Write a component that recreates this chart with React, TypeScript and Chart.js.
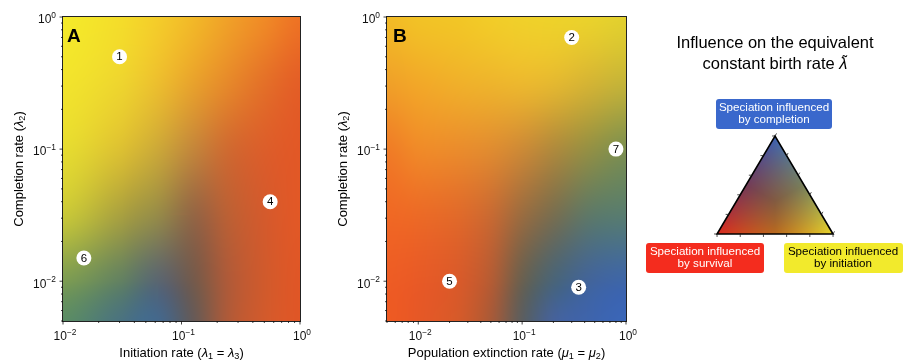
import React, { useEffect, useRef } from "react";
import { Chart, registerables } from "chart.js";
Chart.register(...registerables);

const FONT = '"Liberation Sans", Arial, Helvetica, sans-serif';

// ---------- tick values ----------
const majorTickValues = [0.01, 0.1, 1];
const majorTickExponents = ["−2", "−1", "0"];
const minorTicksAX = [0.02, 0.03, 0.04, 0.05, 0.06, 0.07, 0.08, 0.09, 0.2, 0.3, 0.4, 0.5, 0.6, 0.7, 0.8, 0.9];
const minorTicksWide = [0.005, 0.006, 0.007, 0.008, 0.009, 0.02, 0.03, 0.04, 0.05, 0.06, 0.07, 0.08, 0.09, 0.2, 0.3, 0.4, 0.5, 0.6, 0.7, 0.8, 0.9];

// ---------- markers ----------
const markerAX = [0.03, 0.56, 0.015];
const markerAY = [0.5, 0.04, 0.015];
const markerALabels = ["1", "4", "6"];
const markerBX = [0.3, 0.8, 0.02, 0.35];
const markerBY = [0.7, 0.1, 0.01, 0.009];
const markerBLabels = ["2", "7", "5", "3"];

// ---------- heat map colour samples (rows: y values, cols: x values) ----------
const heatY = [1, 0.316, 0.1, 0.0316, 0.01, 0.005];
const heatAX = [0.01, 0.0316, 0.0631, 0.126, 0.251, 0.501, 1];
const heatAColors = [
  ["#f4ea2a", "#f4dc2a", "#f4cc2a", "#f2b828", "#f0a028", "#f08a26", "#ee7224"],
  ["#f2e42c", "#eed42e", "#ecbe2e", "#e8a22c", "#e6882a", "#e47028", "#e45e26"],
  ["#e6dc30", "#dcc032", "#cca838", "#c4863a", "#d06a30", "#dc5e2a", "#e25826"],
  ["#c8c838", "#a8a040", "#968a48", "#946644", "#bc6034", "#d45a2c", "#e25826"],
  ["#7c9c52", "#628062", "#5a6670", "#745a4c", "#b05a38", "#d05a2c", "#e05626"],
  ["#5a8c64", "#4a7280", "#44688c", "#665a58", "#b05a38", "#d25a2c", "#e05626"],
];
const heatBX = [0.005, 0.01, 0.0251, 0.0501, 0.1, 0.2, 0.447, 1];
const heatBColors = [
  ["#f2ba26", "#f2c226", "#f2c626", "#f2cc28", "#f0d02a", "#eed22a", "#ead22c", "#e2d02e"],
  ["#f0a028", "#f2a828", "#f0b02a", "#eeb42c", "#ecb82e", "#e4b830", "#d4b434", "#c4b438"],
  ["#f07c26", "#f08a28", "#ea8c2c", "#e08c30", "#cc8a36", "#b08a3c", "#949044", "#7e9050"],
  ["#f06824", "#ec6a26", "#e06a2a", "#c86a32", "#9a6c40", "#786e50", "#5e7868", "#587c70"],
  ["#ee5c24", "#e85a26", "#d85a2a", "#b45c34", "#6a6050", "#4a6478", "#42649a", "#3e66a8"],
  ["#ee5a22", "#e65826", "#d45a2a", "#a85a38", "#5c5e60", "#46629a", "#3e64ac", "#3a66b8"],
];

// ---------- ternary legend ----------
const triangleX = [0, 1, 0.5];
const triangleY = [0, 0, 1];
const triangleColors = ["#dc2a1e", "#e8d62a", "#3a62b4"]; // survival, initiation, completion
const triTicks = [0, 0.2, 0.4, 0.6, 0.8, 1];
const legendTitle = ["Influence on the equivalent", "constant birth rate "];
const boxCompletion = ["Speciation influenced", "by completion"];
const boxSurvival = ["Speciation influenced", "by survival"];
const boxInitiation = ["Speciation influenced", "by initiation"];

type Seg = { t: string; it?: boolean; sub?: boolean; sup?: boolean };

function hexToRgb(h: string): number[] {
  const n = parseInt(h.slice(1), 16);
  return [(n >> 16) & 255, (n >> 8) & 255, n & 255];
}

function drawRich(ctx: CanvasRenderingContext2D, segs: Seg[], x: number, y: number, size: number, align: "left" | "center" | "right") {
  const fontFor = (s: Seg) => `${s.it ? "italic " : ""}${s.sub || s.sup ? size * 0.7 : size}px ${FONT}`;
  let total = 0;
  const widths = segs.map((s) => {
    ctx.font = fontFor(s);
    const w = ctx.measureText(s.t).width;
    total += w;
    return w;
  });
  let cx = align === "center" ? x - total / 2 : align === "right" ? x - total : x;
  ctx.textBaseline = "middle";
  ctx.textAlign = "left";
  const xs: number[] = [];
  segs.forEach((s, i) => {
    ctx.font = fontFor(s);
    const dy = s.sub ? size * 0.3 : s.sup ? -size * 0.38 : 0;
    xs.push(cx);
    ctx.fillText(s.t, cx, y + dy);
    cx += widths[i];
  });
  return { xs, widths };
}

function segIndex(arr: number[], v: number): [number, number] {
  const n = arr.length;
  const inc = arr[n - 1] > arr[0];
  for (let k = 0; k < n - 1; k++) {
    const a = arr[k], b = arr[k + 1];
    if ((inc && v <= b) || (!inc && v >= b) || k === n - 2) {
      let t = (v - a) / (b - a);
      t = Math.max(0, Math.min(1, t));
      return [k, t];
    }
  }
  return [0, 0];
}
function crWeights(t: number) {
  const t2 = t * t, t3 = t2 * t;
  return [(-t3 + 2 * t2 - t) / 2, (3 * t3 - 5 * t2 + 2) / 2, (-3 * t3 + 4 * t2 + t) / 2, (t3 - t2) / 2];
}

interface PanelCfg {
  letter: string;
  xMin: number; xMax: number; yMin: number; yMax: number;
  xMinor: number[]; yMinor: number[];
  heatX: number[]; heatY: number[]; heatColors: string[][];
  markerX: number[]; markerY: number[]; markerLabels: string[];
  xTitle: Seg[]; yTitle: Seg[];
  axisLeft: number; padRight: number;
}

function makePanel(canvas: HTMLCanvasElement, p: PanelCfg) {
  const rgb = p.heatColors.map((r) => r.map(hexToRgb));
  const lx = p.heatX.map(Math.log10);
  const ly = p.heatY.map(Math.log10);
  const plugin = {
    id: "panel",
    beforeDatasetsDraw(chart: any) {
      const { ctx, chartArea: a, scales } = chart;
      const xs = scales.x, ys = scales.y;
      const L = Math.round(a.left), T = Math.round(a.top);
      const W = Math.round(a.right) - L, H = Math.round(a.bottom) - T;
      const img = ctx.createImageData(W, H);
      const nC = lx.length, nR = ly.length;
      const colI: number[][] = [], colW: number[][] = [];
      for (let i = 0; i < W; i++) {
        const v = Math.log10(xs.getValueForPixel(L + i + 0.5));
        const [k, t] = segIndex(lx, v);
        colI.push([k - 1, k, k + 1, k + 2].map((q) => Math.max(0, Math.min(nC - 1, q))));
        colW.push(crWeights(t));
      }
      for (let j = 0; j < H; j++) {
        const v = Math.log10(ys.getValueForPixel(T + j + 0.5));
        const [k, t] = segIndex(ly, v);
        const rI = [k - 1, k, k + 1, k + 2].map((q) => Math.max(0, Math.min(nR - 1, q)));
        const rW = crWeights(t);
        for (let i = 0; i < W; i++) {
          const acc = [0, 0, 0];
          for (let a2 = 0; a2 < 4; a2++) {
            const row = rgb[rI[a2]];
            for (let b2 = 0; b2 < 4; b2++) {
              const w = rW[a2] * colW[i][b2];
              const c = row[colI[i][b2]];
              acc[0] += w * c[0]; acc[1] += w * c[1]; acc[2] += w * c[2];
            }
          }
          // keep within the range of the four surrounding samples (no overshoot)
          const c00 = rgb[rI[1]][colI[i][1]], c01 = rgb[rI[1]][colI[i][2]];
          const c10 = rgb[rI[2]][colI[i][1]], c11 = rgb[rI[2]][colI[i][2]];
          const o = (j * W + i) * 4;
          for (let c = 0; c < 3; c++) {
            const lo = Math.min(c00[c], c01[c], c10[c], c11[c]);
            const hi = Math.max(c00[c], c01[c], c10[c], c11[c]);
            img.data[o + c] = Math.max(lo, Math.min(hi, acc[c]));
          }
          img.data[o + 3] = 255;
        }
      }
      ctx.putImageData(img, L, T);
    },
    afterDatasetsDraw(chart: any) {
      const { ctx, chartArea: a } = chart;
      const meta = chart.getDatasetMeta(0);
      ctx.save();
      ctx.fillStyle = "#000";
      ctx.font = `11.5px ${FONT}`;
      ctx.textAlign = "center";
      ctx.textBaseline = "middle";
      meta.data.forEach((el: any, i: number) => {
        ctx.fillText(p.markerLabels[i], el.x, el.y + 0.5);
      });
      ctx.font = `bold 19px ${FONT}`;
      ctx.textAlign = "left";
      ctx.textBaseline = "alphabetic";
      ctx.fillText(p.letter, a.left + (p.letter === "A" ? 4 : 6), a.top + 25);
      ctx.restore();
    },
    afterDraw(chart: any) {
      const { ctx, chartArea: a, scales } = chart;
      const xs = scales.x, ys = scales.y;
      ctx.save();
      ctx.strokeStyle = "#222";
      ctx.lineWidth = 1;
      ctx.strokeRect(a.left - 0.5, a.top - 0.5, a.right - a.left + 1, a.bottom - a.top + 1);
      ctx.lineWidth = 0.8;
      ctx.strokeStyle = "#111";
      const tickX = (v: number, len: number) => {
        const px = xs.getPixelForValue(v);
        ctx.beginPath();
        ctx.moveTo(px, a.bottom);
        ctx.lineTo(px, a.bottom + len);
        ctx.stroke();
      };
      const tickY = (v: number, len: number) => {
        const py = ys.getPixelForValue(v);
        ctx.beginPath();
        ctx.moveTo(a.left, py);
        ctx.lineTo(a.left - len, py);
        ctx.stroke();
      };
      p.xMinor.forEach((v) => tickX(v, 2));
      p.yMinor.forEach((v) => tickY(v, 2));
      majorTickValues.forEach((v) => { tickX(v, 3.5); tickY(v, 3.5); });
      ctx.fillStyle = "#111";
      majorTickValues.forEach((v, i) => {
        const segs: Seg[] = [{ t: "10" }, { t: majorTickExponents[i], sup: true }];
        const px = xs.getPixelForValue(v);
        drawRich(ctx, segs, px + 2, a.bottom + 16, 12, "center");
        const py = ys.getPixelForValue(v);
        drawRich(ctx, segs, a.left - 7, py + 3, 12, "right");
      });
      ctx.fillStyle = "#000";
      drawRich(ctx, p.xTitle, (a.left + a.right) / 2, 353, 13, "center");
      ctx.save();
      ctx.translate(a.left - 44, (a.top + a.bottom) / 2);
      ctx.rotate(-Math.PI / 2);
      drawRich(ctx, p.yTitle, 0, 0, 13, "center");
      ctx.restore();
      ctx.restore();
    },
  };
  return new Chart(canvas, {
    type: "scatter",
    data: {
      datasets: [
        {
          data: p.markerX.map((x, i) => ({ x, y: p.markerY[i] })),
          pointRadius: 7.5,
          pointHoverRadius: 7.5,
          backgroundColor: "#ffffff",
          borderColor: "#ffffff",
          borderWidth: 0,
        },
      ],
    },
    options: {
      animation: false,
      responsive: false,
      events: [],
      layout: { padding: { left: 0, top: 17, right: p.padRight, bottom: 0 } },
      plugins: { legend: { display: false }, tooltip: { enabled: false } },
      scales: {
        x: {
          type: "logarithmic", min: p.xMin, max: p.xMax,
          grid: { display: false }, border: { display: false }, ticks: { display: false },
          afterFit: (s: any) => { s.height = 43; },
        },
        y: {
          type: "logarithmic", min: p.yMin, max: p.yMax,
          grid: { display: false }, border: { display: false }, ticks: { display: false },
          afterFit: (s: any) => { s.width = p.axisLeft; },
        },
      },
    } as any,
    plugins: [plugin as any],
  });
}

function roundRect(ctx: CanvasRenderingContext2D, x: number, y: number, w: number, h: number, r: number) {
  ctx.beginPath();
  ctx.moveTo(x + r, y);
  ctx.lineTo(x + w - r, y);
  ctx.quadraticCurveTo(x + w, y, x + w, y + r);
  ctx.lineTo(x + w, y + h - r);
  ctx.quadraticCurveTo(x + w, y + h, x + w - r, y + h);
  ctx.lineTo(x + r, y + h);
  ctx.quadraticCurveTo(x, y + h, x, y + h - r);
  ctx.lineTo(x, y + r);
  ctx.quadraticCurveTo(x, y, x + r, y);
  ctx.closePath();
}

function makeLegend(canvas: HTMLCanvasElement) {
  const vc = triangleColors.map(hexToRgb);
  const plugin = {
    id: "ternary",
    beforeDatasetsDraw(chart: any) {
      const { ctx, scales } = chart;
      const P = triangleX.map((x, i) => [scales.x.getPixelForValue(x), scales.y.getPixelForValue(triangleY[i])]);
      const minX = Math.floor(Math.min(...P.map((q) => q[0]))) - 1;
      const maxX = Math.ceil(Math.max(...P.map((q) => q[0]))) + 1;
      const minY = Math.floor(Math.min(...P.map((q) => q[1]))) - 1;
      const maxY = Math.ceil(Math.max(...P.map((q) => q[1]))) + 1;
      const W = maxX - minX, H = maxY - minY;
      const off = document.createElement("canvas");
      off.width = W; off.height = H;
      const octx = off.getContext("2d")!;
      const img = octx.createImageData(W, H);
      const [x1, y1] = P[0], [x2, y2] = P[1], [x3, y3] = P[2];
      const det = (y2 - y3) * (x1 - x3) + (x3 - x2) * (y1 - y3);
      for (let j = 0; j < H; j++) {
        for (let i = 0; i < W; i++) {
          const px = minX + i + 0.5, py = minY + j + 0.5;
          let w1 = ((y2 - y3) * (px - x3) + (x3 - x2) * (py - y3)) / det;
          let w2 = ((y3 - y1) * (px - x3) + (x1 - x3) * (py - y3)) / det;
          w1 = Math.max(0, Math.min(1, w1));
          w2 = Math.max(0, Math.min(1, w2));
          let w3 = Math.max(0, 1 - w1 - w2);
          const s = w1 + w2 + w3;
          w1 /= s; const ww2 = w2 / s; w3 /= s;
          const mx = Math.max(w1, ww2, w3);
          const d = 1 - 0.35 * (1 - mx);
          const o = (j * W + i) * 4;
          for (let c = 0; c < 3; c++) img.data[o + c] = (w1 * vc[0][c] + ww2 * vc[1][c] + w3 * vc[2][c]) * d;
          img.data[o + 3] = 255;
        }
      }
      octx.putImageData(img, 0, 0);
      ctx.save();
      ctx.beginPath();
      ctx.moveTo(x1, y1); ctx.lineTo(x2, y2); ctx.lineTo(x3, y3); ctx.closePath();
      ctx.clip();
      ctx.drawImage(off, minX, minY);
      ctx.restore();
      ctx.save();
      ctx.beginPath();
      ctx.moveTo(x1, y1); ctx.lineTo(x2, y2); ctx.lineTo(x3, y3); ctx.closePath();
      ctx.strokeStyle = "#000";
      ctx.lineWidth = 1.6;
      ctx.lineJoin = "miter";
      ctx.stroke();
      ctx.lineWidth = 0.8;
      ctx.strokeStyle = "#222";
      triTicks.forEach((t) => {
        const bx = x1 + (x2 - x1) * t, by = y1 + (y2 - y1) * t;
        ctx.beginPath(); ctx.moveTo(bx, by); ctx.lineTo(bx, by + 3); ctx.stroke();
        const lx = x1 + (x3 - x1) * t, ly = y1 + (y3 - y1) * t;
        ctx.beginPath(); ctx.moveTo(lx, ly); ctx.lineTo(lx - 3, ly); ctx.stroke();
        const rx = x2 + (x3 - x2) * t, ry = y2 + (y3 - y2) * t;
        ctx.beginPath(); ctx.moveTo(rx, ry); ctx.lineTo(rx + 1.5, ry - 2.6); ctx.stroke();
      });
      ctx.restore();
    },
    afterDraw(chart: any) {
      const { ctx } = chart;
      ctx.save();
      ctx.fillStyle = "#000";
      ctx.textAlign = "center";
      ctx.textBaseline = "middle";
      ctx.font = `16.5px ${FONT}`;
      ctx.fillText(legendTitle[0], 135, 43);
      const r = drawRich(ctx, [{ t: legendTitle[1] }, { t: "λ", it: true }], 135, 64, 16.5, "center");
      ctx.font = `14px ${FONT}`;
      ctx.textAlign = "center";
      ctx.textBaseline = "alphabetic";
      ctx.fillText("˜", r.xs[1] + r.widths[1] / 2 + 1.5, 66);
      const box = (x: number, y: number, w: number, h: number, fill: string, txt: string[], color: string, cx: number) => {
        roundRect(ctx, x, y, w, h, 3);
        ctx.fillStyle = fill;
        ctx.fill();
        ctx.fillStyle = color;
        ctx.font = `11.6px ${FONT}`;
        ctx.textAlign = "center";
        ctx.textBaseline = "middle";
        ctx.fillText(txt[0], cx, y + 8.5);
        ctx.fillText(txt[1], cx, y + 20.5);
      };
      box(76, 99, 116, 30, "#3a68cc", boxCompletion, "#ffffff", 134);
      box(6, 243, 118, 30, "#f42c1e", boxSurvival, "#ffffff", 65);
      box(144, 243, 119, 30, "#f2ea2c", boxInitiation, "#000000", 203);
      ctx.restore();
    },
  };
  return new Chart(canvas, {
    type: "scatter",
    data: {
      datasets: [
        { data: triangleX.map((x, i) => ({ x, y: triangleY[i] })), pointRadius: 0, pointHoverRadius: 0 },
      ],
    },
    options: {
      animation: false,
      responsive: false,
      events: [],
      layout: { padding: 0 },
      plugins: { legend: { display: false }, tooltip: { enabled: false } },
      scales: {
        x: { type: "linear", min: -0.664, max: 1.603, display: false },
        y: { type: "linear", min: -1.327, max: 2.388, display: false },
      },
    } as any,
    plugins: [plugin as any],
  });
}

const panelA: PanelCfg = {
  letter: "A",
  xMin: 0.01, xMax: 1, yMin: 0.005, yMax: 1,
  xMinor: minorTicksAX, yMinor: minorTicksWide,
  heatX: heatAX, heatY: heatY, heatColors: heatAColors,
  markerX: markerAX, markerY: markerAY, markerLabels: markerALabels,
  xTitle: [{ t: "Initiation rate (" }, { t: "λ", it: true }, { t: "1", sub: true }, { t: " = " }, { t: "λ", it: true }, { t: "3", sub: true }, { t: ")" }],
  yTitle: [{ t: "Completion rate (" }, { t: "λ", it: true }, { t: "2", sub: true }, { t: ")" }],
  axisLeft: 63, padRight: 20,
};
const panelB: PanelCfg = {
  letter: "B",
  xMin: 0.005, xMax: 1, yMin: 0.005, yMax: 1,
  xMinor: minorTicksWide, yMinor: minorTicksWide,
  heatX: heatBX, heatY: heatY, heatColors: heatBColors,
  markerX: markerBX, markerY: markerBY, markerLabels: markerBLabels,
  xTitle: [{ t: "Population extinction rate (" }, { t: "μ", it: true }, { t: "1", sub: true }, { t: " = " }, { t: "μ", it: true }, { t: "2", sub: true }, { t: ")" }],
  yTitle: [{ t: "Completion rate (" }, { t: "λ", it: true }, { t: "2", sub: true }, { t: ")" }],
  axisLeft: 67, padRight: 14,
};

export default function App() {
  const aRef = useRef<HTMLCanvasElement>(null);
  const bRef = useRef<HTMLCanvasElement>(null);
  const lRef = useRef<HTMLCanvasElement>(null);
  useEffect(() => {
    const c1 = makePanel(aRef.current!, panelA);
    const c2 = makePanel(bRef.current!, panelB);
    const c3 = makeLegend(lRef.current!);
    return () => { c1.destroy(); c2.destroy(); c3.destroy(); };
  }, []);
  return (
    <div style={{ position: "absolute", left: 0, top: 0, width: 903, height: 364, background: "#fff", overflow: "hidden" }}>
      <canvas ref={aRef} width={320} height={364} style={{ position: "absolute", left: 0, top: 0, width: 320, height: 364 }} />
      <canvas ref={bRef} width={320} height={364} style={{ position: "absolute", left: 320, top: 0, width: 320, height: 364 }} />
      <canvas ref={lRef} width={263} height={364} style={{ position: "absolute", left: 640, top: 0, width: 263, height: 364 }} />
    </div>
  );
}
